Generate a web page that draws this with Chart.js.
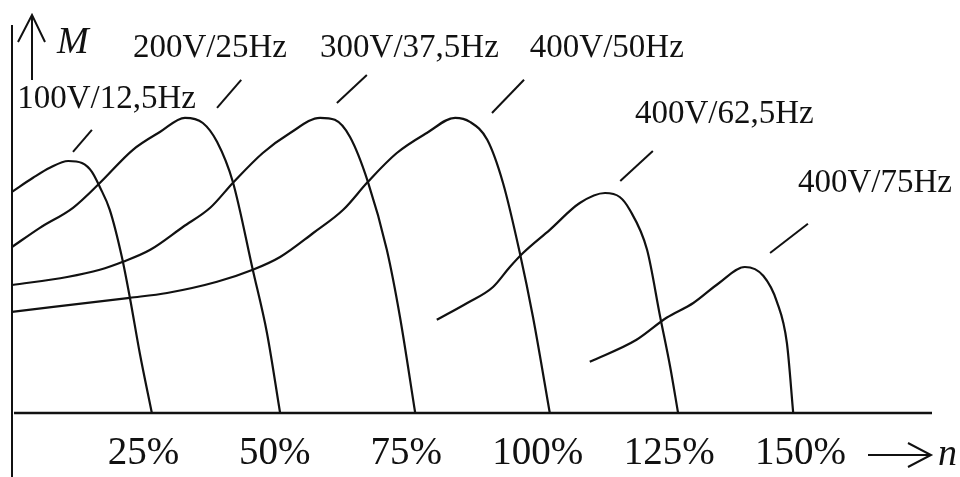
<!DOCTYPE html>
<html>
<head>
<meta charset="utf-8">
<script src="https://cdn.jsdelivr.net/npm/chart.js@4"></script>
<style>
  body { margin: 0; background: #fff; }
  #wrap { width: 960px; height: 477px; }
</style>
</head>
<body>
<div id="wrap"><canvas id="myChart"></canvas></div>
<script>
// n in % of rated speed, M in arbitrary units (0..100)
const curveNames = ['100V/12,5Hz', '200V/25Hz', '300V/37,5Hz', '400V/50Hz', '400V/62,5Hz', '400V/75Hz'];

const n1 = [0, 4.0, 7.2, 10.7, 13.3, 15.2, 16.7, 18.6, 20.9, 22.4, 24.3, 26.6];
const m1 = [55.3, 58.8, 61.3, 63.0, 62.5, 60.3, 56.5, 50.8, 39.0, 29.0, 15.0, 0];

const n2 = [0, 5.3, 11.6, 16.7, 23.0, 28.2, 32.9, 36.3, 39.0, 42.0, 45.8, 48.5, 51.0];
const m2 = [41.5, 46.3, 51.3, 57.5, 65.8, 70.3, 73.8, 72.5, 67.8, 57.8, 35.8, 20.0, 0];

const n3 = [0, 10.5, 16.7, 21.1, 26.3, 32.5, 37.7, 42.0, 47.7, 52.9, 58.6, 61.4, 64.3, 67.7, 71.3, 73.8, 76.7];
const m3 = [32.0, 34.0, 35.8, 37.8, 40.8, 46.5, 51.3, 57.5, 65.0, 70.0, 73.8, 73.3, 69.0, 57.8, 40.8, 24.0, 0];

const n4 = [0, 22.4, 29.5, 39.0, 45.8, 51.0, 57.3, 63.0, 67.7, 73.2, 78.9, 84.3, 87.1, 90.4, 93.4, 96.6, 99.1, 102.3];
const m4 = [25.3, 28.8, 30.0, 32.8, 35.8, 39.0, 45.0, 50.8, 57.8, 65.0, 70.0, 73.8, 72.8, 68.3, 57.5, 40.0, 24.0, 0];

const n5 = [80.8, 86.6, 91.5, 94.7, 97.2, 102.3, 108.0, 112.8, 115.6, 117.5, 120.8, 123.3, 125.2, 126.7];
const m5 = [23.3, 27.5, 31.5, 36.5, 40.0, 45.8, 52.5, 55.0, 54.0, 50.8, 40.8, 24.0, 11.5, 0];

const n6 = [109.9, 118.8, 124.5, 129.6, 134.5, 139.4, 142.9, 145.5, 147.4, 148.6];
const m6 = [12.8, 18.3, 23.8, 27.5, 32.5, 36.5, 34.3, 27.8, 17.5, 0];

const tickValues = [25, 50, 75, 100, 125, 150];
const tickLabels = ['25%', '50%', '75%', '100%', '125%', '150%'];

// leader line ends and label anchors, in n/M units
const leaderFrom = [[11.6, 65.3], [39.0, 76.3], [61.8, 77.5], [91.3, 75.0], [115.7, 58.0], [144.2, 40.0]];
const leaderTo   = [[15.2, 70.8], [43.6, 83.3], [67.5, 84.5], [97.4, 83.3], [121.9, 65.5], [151.4, 47.3]];
const labelPos   = [[1.0, 76.3], [23.0, 89.0], [58.6, 89.0], [98.5, 89.0], [118.5, 72.5], [149.5, 55.3]];

const serif = '"Liberation Serif", "Times New Roman", serif';

function pts(xs, ys) {
    return xs.map((x, i) => ({ x: x, y: ys[i] }));
}

const curves = [[n1, m1], [n2, m2], [n3, m3], [n4, m4], [n5, m5], [n6, m6]];
const datasets = [];
curves.forEach((c, i) => {
    datasets.push({
        label: curveNames[i],
        data: pts(c[0], c[1]),
        showLine: true,
        borderColor: '#111',
        borderWidth: 2.2,
        pointRadius: 0,
        cubicInterpolationMode: 'monotone',
        clip: false
    });
});
leaderFrom.forEach((p, i) => {
    datasets.push({
        label: 'leader ' + i,
        data: [{ x: p[0], y: p[1] }, { x: leaderTo[i][0], y: leaderTo[i][1] }],
        showLine: true,
        borderColor: '#111',
        borderWidth: 2,
        pointRadius: 0,
        tension: 0,
        clip: false
    });
});

const drawing = {
    id: 'drawing',
    afterDatasetsDraw(chart) {
        const ctx = chart.ctx;
        const xs = chart.scales.x, ys = chart.scales.y;
        const area = chart.chartArea;
        const x0 = xs.getPixelForValue(0);
        const y0 = ys.getPixelForValue(0);
        ctx.save();
        ctx.strokeStyle = '#111';
        ctx.fillStyle = '#111';
        ctx.lineCap = 'butt';

        // axes
        ctx.lineWidth = 2;
        ctx.beginPath();
        ctx.moveTo(x0, 25);
        ctx.lineTo(x0, chart.height);
        ctx.stroke();
        ctx.lineWidth = 2.5;
        ctx.beginPath();
        ctx.moveTo(x0 + 2, y0);
        ctx.lineTo(area.right, y0);
        ctx.stroke();

        // M arrow
        ctx.lineWidth = 2;
        ctx.beginPath();
        ctx.moveTo(32, 80); ctx.lineTo(32, 15);
        ctx.moveTo(18, 42); ctx.lineTo(32, 15); ctx.lineTo(45, 42);
        ctx.stroke();
        ctx.font = 'italic 38px ' + serif;
        ctx.textBaseline = 'alphabetic';
        ctx.textAlign = 'left';
        ctx.fillText('M', 57, 53);

        // n arrow
        ctx.beginPath();
        ctx.moveTo(868, 455); ctx.lineTo(930, 455);
        ctx.moveTo(908, 443); ctx.lineTo(931, 455); ctx.lineTo(908, 467);
        ctx.stroke();
        ctx.fillText('n', 938, 465);

        // tick labels
        ctx.font = '39px ' + serif;
        ctx.textAlign = 'center';
        tickValues.forEach((v, i) => {
            ctx.fillText(tickLabels[i], xs.getPixelForValue(v), y0 + 51);
        });

        // curve labels
        ctx.font = '33px ' + serif;
        ctx.textAlign = 'left';
        labelPos.forEach((p, i) => {
            ctx.fillText(curveNames[i], xs.getPixelForValue(p[0]), ys.getPixelForValue(p[1]));
        });
        ctx.restore();
    }
};

const chart = new Chart(document.getElementById('myChart').getContext('2d'), {
    type: 'scatter',
    data: { datasets: datasets },
    options: {
        responsive: true,
        maintainAspectRatio: false,
        animation: false,
        layout: { padding: { left: 12, right: 28, top: 13, bottom: 64 } },
        plugins: { legend: { display: false }, tooltip: { enabled: false } },
        scales: {
            x: { type: 'linear', min: 0, max: 175, display: false },
            y: { type: 'linear', min: 0, max: 100, display: false }
        }
    },
    plugins: [drawing]
});
</script>
</body>
</html>
